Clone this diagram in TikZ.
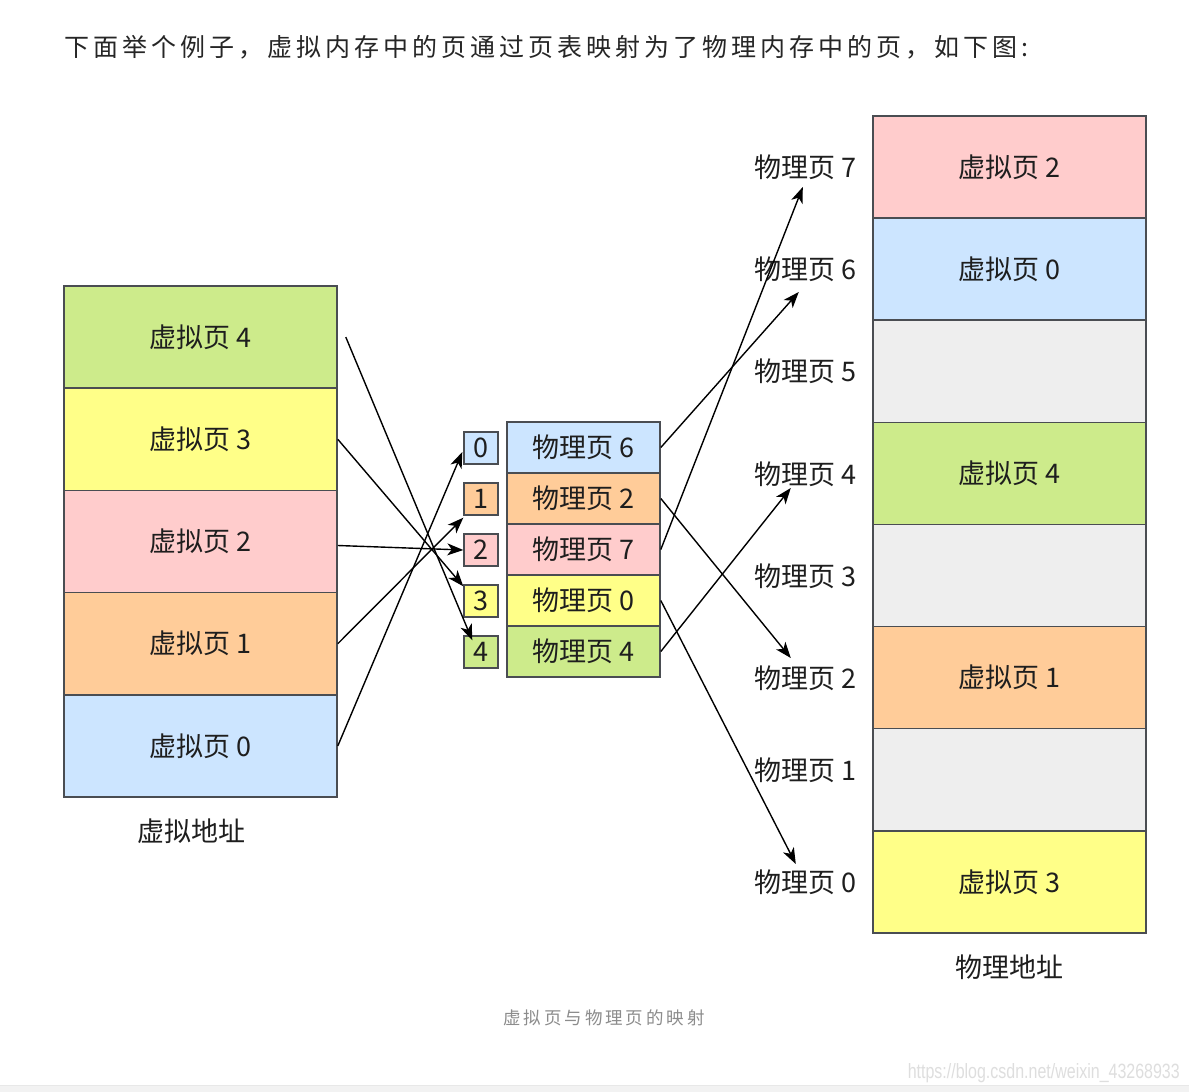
\documentclass[tikz,border=0pt]{standalone}
\usepackage{fontspec}
\setmainfont{Noto Sans CJK SC}
\newfontfamily\wmfont{Liberation Sans}
\usetikzlibrary{arrows.meta,calc}
\definecolor{cgreen}{HTML}{CDEB8B}
\definecolor{cyellow}{HTML}{FFFF88}
\definecolor{cpink}{HTML}{FFCCCC}
\definecolor{corange}{HTML}{FFCC99}
\definecolor{cblue}{HTML}{CCE5FF}
\definecolor{cgray}{HTML}{EEEEEE}
\definecolor{cborder}{HTML}{4A4D52}
\definecolor{ctext}{HTML}{1E1E1E}
\tikzset{
  bigfont/.style={font=\fontsize{27}{31}\selectfont, text=ctext},
  vbox/.style={draw=cborder, line width=1.6pt, minimum width=273pt, minimum height=102.2pt, inner sep=0pt, bigfont},
  pbox/.style={vbox, minimum height=102.1pt},
  mbox/.style={draw=cborder, line width=1.6pt, minimum width=153pt, minimum height=51pt, inner sep=0pt, bigfont},
  ibox/.style={draw=cborder, line width=1.4pt, minimum width=34pt, minimum height=32pt, inner sep=0pt, bigfont},
  plabel/.style={anchor=east, inner sep=0pt, bigfont},
  arr/.style={line width=1.4pt, black, -{Stealth[length=16pt,width=12pt,inset=4.5pt]}}
}
\begin{document}
\begin{tikzpicture}[x=1pt,y=-1pt]
\useasboundingbox (0,0) rectangle (1189,1092);
\fill[white] (0,0) rectangle (1189,1092);
\fill[black!5] (0,1085) rectangle (1189,1092);
\draw[black!9, line width=1pt] (0,1085) -- (1189,1085);

% heading
\node[anchor=west, inner sep=0pt, text=black!85, font=\fontsize{25}{29}\selectfont\addfontfeature{LetterSpace=16}] (head) at (64,47) {下面举个例子，虚拟内存中的页通过页表映射为了物理内存中的页，如下图:};

% left column: virtual addresses
\node[vbox, fill=cgreen]  (v4) at (200.5,337.1) {虚拟页 4};
\node[vbox, fill=cyellow] (v3) at (200.5,439.3) {虚拟页 3};
\node[vbox, fill=cpink]   (v2) at (200.5,541.5) {虚拟页 2};
\node[vbox, fill=corange] (v1) at (200.5,643.7) {虚拟页 1};
\node[vbox, fill=cblue]   (v0) at (200.5,745.9) {虚拟页 0};
\node[bigfont, inner sep=0pt] (vlab) at (191,831) {虚拟地址};

% index boxes
\node[ibox, fill=cblue]   (i0) at (481,448) {0};
\node[ibox, fill=corange] (i1) at (481,499) {1};
\node[ibox, fill=cpink]   (i2) at (481,550) {2};
\node[ibox, fill=cyellow] (i3) at (481,601) {3};
\node[ibox, fill=cgreen]  (i4) at (481,652) {4};

% page table
\node[mbox, fill=cblue]   (m6) at (583.5,447.5) {物理页 6};
\node[mbox, fill=corange] (m2) at (583.5,498.5) {物理页 2};
\node[mbox, fill=cpink]   (m7) at (583.5,549.5) {物理页 7};
\node[mbox, fill=cyellow] (m0) at (583.5,600.5) {物理页 0};
\node[mbox, fill=cgreen]  (m4) at (583.5,651.5) {物理页 4};

% right column: physical addresses
\node[pbox, fill=cpink]   (r7) at (1009.5,167.1) {虚拟页 2};
\node[pbox, fill=cblue]   (r6) at (1009.5,269.2) {虚拟页 0};
\node[pbox, fill=cgray]   (r5) at (1009.5,371.3) {};
\node[pbox, fill=cgreen]  (r4) at (1009.5,473.4) {虚拟页 4};
\node[pbox, fill=cgray]   (r3) at (1009.5,575.5) {};
\node[pbox, fill=corange] (r2) at (1009.5,677.6) {虚拟页 1};
\node[pbox, fill=cgray]   (r1) at (1009.5,779.7) {};
\node[pbox, fill=cyellow] (r0) at (1009.5,881.8) {虚拟页 3};
\node[bigfont, inner sep=0pt] (plab) at (1009,967) {物理地址};

% physical page labels
\node[plabel] (p7) at (857,167) {物理页 7};
\node[plabel] (p6) at (857,269) {物理页 6};
\node[plabel] (p5) at (857,371) {物理页 5};
\node[plabel] (p4) at (857,474) {物理页 4};
\node[plabel] (p3) at (857,576) {物理页 3};
\node[plabel] (p2) at (857,678) {物理页 2};
\node[plabel] (p1) at (857,770) {物理页 1};
\node[plabel] (p0) at (857,882) {物理页 0};

% arrows: virtual pages -> index
\draw[arr] ([xshift=8pt]v4.east) -- ([xshift=9pt,yshift=-5pt]i4.north west);
\draw[arr] (v3.east) -- ([yshift=-2pt]i3.north west);
\draw[arr] ([yshift=-4pt]v2.east) -- (i2.west);
\draw[arr] (v1.east) -- ([yshift=-2pt]i1.south west);
\draw[arr] (v0.east) -- ([xshift=-1pt,yshift=-4pt]i0.west);

% arrows: page table -> physical pages
\draw[arr] (m6.east) -- ($(p6.center)+(-7,23)$);
\draw[arr] (m7.east) -- ($(p7.center)+(-3,20)$);
\draw[arr] (m2.east) -- ($(p2.center)+(-15,-20)$);
\draw[arr] (m0.east) -- ($(p0.center)+(-10,-18)$);
\draw[arr] (m4.east) -- ($(p4.center)+(-15,14)$);

% caption and watermark
\node[text=black!45, font=\fontsize{17.5}{20}\selectfont\addfontfeature{LetterSpace=17}, inner sep=0pt] (cap) at (604,1018) {虚拟页与物理页的映射};
\node[anchor=east, inner sep=0pt, text=black!13] (wm) at (1180,1073) {\resizebox{272pt}{15pt}{\wmfont https://blog.csdn.net/weixin\_43268933}};
\end{tikzpicture}
\end{document}
